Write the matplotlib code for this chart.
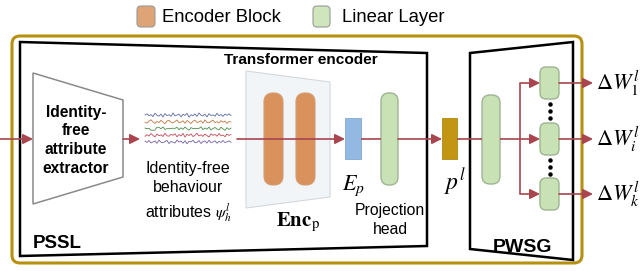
"""Redraw of the PSSL / PWSG pipeline figure with plain matplotlib patches."""

import numpy as np
import matplotlib

matplotlib.use("Agg")
import matplotlib.pyplot as plt
from matplotlib.patches import Polygon, FancyBboxPatch, Rectangle

plt.rcParams["font.family"] = ["Liberation Sans", "DejaVu Sans"]
plt.rcParams["mathtext.fontset"] = "stix"

W, H = 642, 271
RED = "#A8454F"
GOLD = "#B8900F"
GREEN = "#C8E2B6"
GREEN_EDGE = "#9FB493"
ORANGE = "#D9925C"

legend_labels = ["Encoder Block", "Linear Layer"]
extractor_lines = ["Identity-", "free", "attribute", "extractor"]
attr_lines = ["Identity-free", "behaviour", r"attributes $\psi_h^l$"]
head_lines = ["Projection", "head"]
output_labels = [r"$\Delta W_1^l$", r"$\Delta W_i^l$", r"$\Delta W_k^l$"]

# hand-read squiggles of the five behaviour attribute signals (pixel offsets)
wave_1 = [0.0, -1.2, 0.8, -0.4, 1.6, -1.8, 0.3, 1.1, -0.9, 2.0, -1.4, 0.6, -0.2,
          1.3, -2.1, 0.9, 0.1, -1.0, 1.8, -0.7, 0.4, -1.6, 2.2, -0.3, 0.7, -1.1,
          1.5, -2.0, 0.2, 1.0, -0.8, 1.9, -1.3, 0.5, -0.1, 1.2, -1.7, 0.8, -0.5,
          1.4, -0.9, 0.3, -1.2, 0.6]
wave_2 = [0.5, 1.4, -0.6, -1.9, 0.2, 1.7, -0.3, 0.9, -1.5, 0.4, 2.1, -0.8, -1.3,
          0.6, 1.2, -0.2, -1.7, 1.0, 0.3, -0.9, 1.6, -1.2, 0.1, 1.9, -0.5, -1.4,
          0.8, 0.2, -1.0, 1.5, -1.8, 0.7, 1.1, -0.4, -1.6, 0.9, 0.0, 1.3, -1.1,
          0.5, -0.7, 1.8, -0.2, 0.4]
wave_3 = [-0.3, 0.2, -0.1, 1.8, 1.9, 1.7, -1.2, -1.0, 0.4, -1.5, 1.1, 0.2, 0.3,
          0.1, -0.2, 0.0, -1.1, 1.3, -0.6, 0.9, -1.4, 0.5, 1.7, -0.8, 0.2, -0.1,
          0.3, 0.0, -1.6, 1.2, -0.4, 0.8, -1.3, 1.6, 0.1, -0.9, 0.6, 1.5, -1.2,
          0.4, 1.9, -0.6, 1.1, -0.3]
wave_4 = [1.2, -0.4, 0.9, -1.6, 0.3, 1.8, -1.1, 0.6, -0.2, 1.4, -1.9, 0.7, 1.1,
          -0.8, 0.2, -1.3, 1.7, -0.5, 0.9, -1.7, 2.0, -0.9, 0.4, -1.2, 1.5, 0.1,
          -1.8, 0.8, -0.3, 1.3, -1.0, 0.5, 1.9, -1.4, 0.2, -0.6, 1.1, -1.5, 0.7,
          -0.1, 1.6, -1.1, 0.3, -0.7]
wave_5 = [-0.6, 0.7, -1.3, 1.1, 0.2, -0.9, 1.5, -1.7, 0.4, 0.9, -0.2, -1.4, 1.8,
          -0.5, 0.6, 1.2, -1.8, 0.3, -0.7, 1.4, -1.1, 2.0, -0.4, 0.1, -1.5, 1.0,
          0.5, -1.2, 1.7, -0.3, -0.8, 1.3, -1.6, 0.9, 0.2, -1.0, 1.4, -0.4, 0.6,
          -1.3, 0.8, 0.0, -0.9, 0.5]
waves = [wave_1, wave_2, wave_3, wave_4, wave_5]
wave_colors = ["#5A6BA8", "#C07A45", "#4F8A4C", "#C24A58", "#7463A6"]


def rbox(ax, x0, y0, x1, y1, fc, ec, r, lw=1.0, z=3):
    ax.add_patch(FancyBboxPatch((x0, y0), x1 - x0, y1 - y0,
                                boxstyle=f"round,pad=0,rounding_size={r}",
                                fc=fc, ec=ec, lw=lw, zorder=z))


def arrow(ax, x0, y0, x1, y1):
    ax.annotate("", xy=(x1, y1), xytext=(x0, y0), zorder=6,
                arrowprops=dict(arrowstyle="-|>,head_length=0.6,head_width=0.3",
                                color=RED, lw=1.2, shrinkA=0, shrinkB=0,
                                mutation_scale=10))


def line(ax, xs, ys):
    ax.plot(xs, ys, color=RED, lw=1.2, zorder=6, solid_capstyle="butt")


def main():
    fig = plt.figure(figsize=(W / 100, H / 100), dpi=100)
    ax = fig.add_axes([0, 0, 1, 1])
    ax.set_xlim(0, W)
    ax.set_ylim(H, 0)
    ax.axis("off")

    # legend
    rbox(ax, 137, 6, 155, 27, "#DFA475", "#999999", 4, lw=0.8)
    ax.text(162, 17, legend_labels[0], fontsize=13.3, va="center", ha="left")
    rbox(ax, 313, 6, 330, 27, "#CFE5BC", "#999999", 4, lw=0.8)
    ax.text(342, 17, legend_labels[1], fontsize=13.3, va="center", ha="left")

    # frames
    rbox(ax, 12, 36, 582, 263, "none", GOLD, 8, lw=2.2, z=1)
    ax.add_patch(Polygon([(20, 42), (427, 53), (427, 246), (20, 256)],
                         closed=True, fc="none", ec="black", lw=1.8, zorder=2))
    ax.add_patch(Polygon([(470, 53), (573, 42), (573, 260), (470, 249)],
                         closed=True, fc="none", ec="black", lw=1.8, zorder=2))

    # identity-free attribute extractor
    ax.add_patch(Polygon([(33, 73), (123, 100), (123, 177), (33, 204)],
                         closed=True, fc="white", ec="#8A8A8A", lw=1.1, zorder=3))
    for i, s in enumerate(extractor_lines):
        ax.text(76, 112 + i * 18.8, s, fontsize=11.2, fontweight="bold",
                ha="center", va="center")

    arrow(ax, 0, 139, 33, 139)
    arrow(ax, 123, 139, 140, 139)

    # behaviour attribute signals
    for k, (w, c) in enumerate(zip(waves, wave_colors)):
        xs = np.linspace(145, 231, len(w))
        ax.plot(xs, 115 + k * 6.7 + np.array(w), color=c, lw=0.6, zorder=4)
    for i, s in enumerate(attr_lines):
        ax.text(188, [168, 188, 213][i], s, fontsize=11.5, ha="center", va="center")

    # transformer encoder
    ax.text(301, 60, "Transformer encoder", fontsize=11.1, fontweight="bold",
            ha="center", va="center")
    ax.add_patch(Polygon([(246, 71), (330, 82), (330, 197), (246, 208)],
                         closed=True, fc="#F2F5F7", ec="#D5D8DA", lw=0.8, zorder=3))
    rbox(ax, 264, 93, 283, 185, ORANGE, "#D49A70", 9, lw=0.8, z=4)
    rbox(ax, 296, 93, 315, 185, ORANGE, "#D49A70", 9, lw=0.8, z=4)
    ax.text(298, 222, r"$\mathbf{Enc}_\mathrm{p}$", fontsize=15,
            ha="center", va="center")
    arrow(ax, 237, 139, 345, 139)

    ax.add_patch(Rectangle((345, 118), 16, 41, fc="#93B9E2", ec="#82A8D2",
                           lw=0.6, zorder=4))
    ax.text(353, 186, r"$E_p$", fontsize=16, ha="center", va="center")
    line(ax, [361, 381], [139, 139])

    rbox(ax, 381, 93, 398, 185, GREEN, GREEN_EDGE, 8, z=4)
    for i, s in enumerate(head_lines):
        ax.text(390, 211 + i * 19, s, fontsize=11.3, ha="center", va="center")
    arrow(ax, 398, 139, 442, 139)

    # personalised weight shift generator
    ax.add_patch(Rectangle((442, 118), 15, 41, fc="#C29512", ec="#B08A10",
                           lw=0.6, zorder=4))
    ax.text(455, 182, r"$p^l$", fontsize=17, ha="center", va="center")
    line(ax, [457, 482], [139, 139])
    rbox(ax, 482, 95, 500, 184, GREEN, GREEN_EDGE, 8, z=4)
    line(ax, [500, 520], [139, 139])

    rows = [83, 139, 194]
    line(ax, [520, 520], [rows[0], rows[-1]])
    for y, lab in zip(rows, output_labels):
        arrow(ax, 520, y, 540, y)
        rbox(ax, 540, y - 16, 559, y + 16, GREEN, GREEN_EDGE, 6, z=4)
        arrow(ax, 559, y, 593, y)
        ax.text(596, y, lab, fontsize=16, ha="left", va="center")
    for a, b in zip(rows[:-1], rows[1:]):
        mid = (a + b) / 2
        ax.plot([550] * 3, [mid - 7, mid, mid + 7], "o", color="black",
                ms=2.2, zorder=5)

    ax.text(33, 244, "PSSL", fontsize=13.5, fontweight="bold", ha="left", va="center")
    ax.text(523, 247, "PWSG", fontsize=14, fontweight="bold", ha="center", va="center")

    fig.savefig("out.png", dpi=100)


if __name__ == "__main__":
    main()
